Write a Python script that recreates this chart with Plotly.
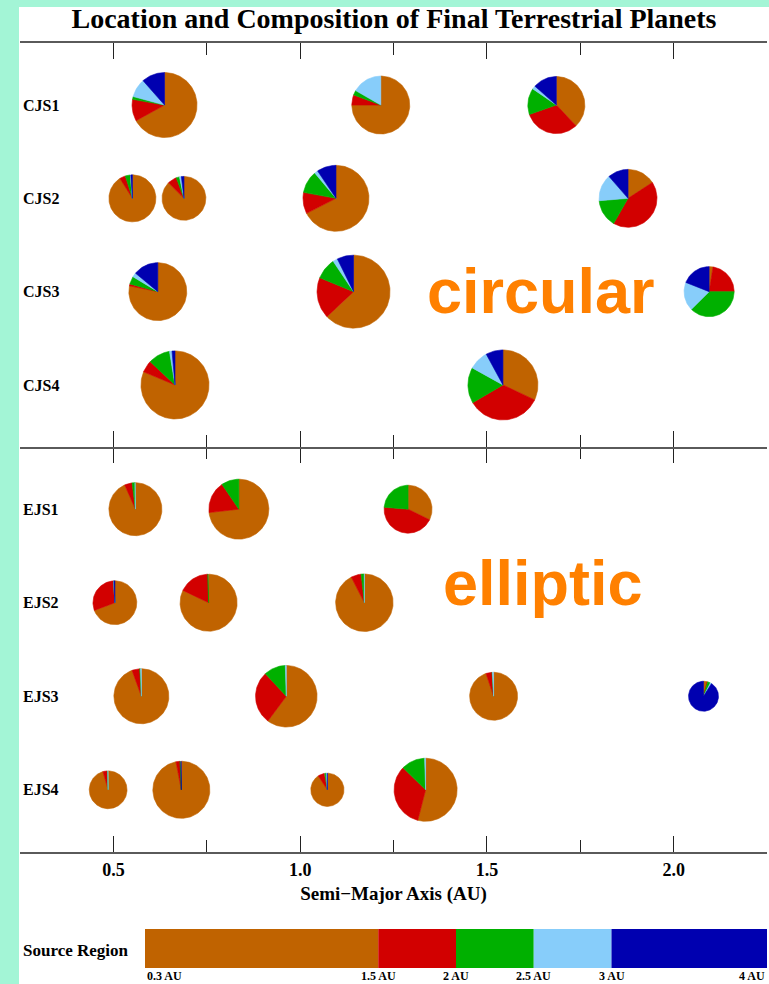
import numpy as np
import plotly.graph_objects as go

# ---------------- data ----------------
source_edge_labels = ["0.3 AU", "1.5 AU", "2 AU", "2.5 AU", "3 AU", "4 AU"]
source_names = ["0.3-1.5 AU", "1.5-2 AU", "2-2.5 AU", "2.5-3 AU", "3-4 AU"]
source_colors = ["#c06300", "#d20000", "#00b000", "#87cdfa", "#0000b0"]

cjs_rows = ["CJS1", "CJS2", "CJS3", "CJS4"]
ejs_rows = ["EJS1", "EJS2", "EJS3", "EJS4"]

# circular Jupiter/Saturn runs: one entry per final planet
cjs_run = [1, 1, 1, 2, 2, 2, 2, 3, 3, 3, 4, 4]
cjs_a = [0.637, 1.216, 1.686, 0.551, 0.689, 1.096, 1.878, 0.619, 1.143, 2.095, 0.665, 1.543]
cjs_mass = [1.27, 0.90, 0.86, 0.48, 0.39, 1.33, 0.90, 0.90, 1.80, 0.58, 1.46, 1.59]
cjs_f_03_15 = [0.670, 0.750, 0.379, 0.911, 0.875, 0.675, 0.158, 0.782, 0.630, 0.025, 0.813, 0.320]
cjs_f_15_20 = [0.108, 0.057, 0.317, 0.040, 0.067, 0.104, 0.425, 0.011, 0.182, 0.225, 0.057, 0.345]
cjs_f_20_25 = [0.014, 0.026, 0.149, 0.033, 0.024, 0.110, 0.154, 0.043, 0.094, 0.375, 0.104, 0.165]
cjs_f_25_30 = [0.093, 0.167, 0.019, 0.005, 0.014, 0.017, 0.149, 0.024, 0.021, 0.185, 0.012, 0.090]
cjs_f_30_40 = [0.115, 0.000, 0.135, 0.011, 0.019, 0.094, 0.114, 0.140, 0.073, 0.190, 0.014, 0.079]

# eccentric Jupiter/Saturn runs
ejs_run = [1, 1, 1, 2, 2, 2, 3, 3, 3, 3, 4, 4, 4, 4]
ejs_a = [0.559, 0.836, 1.289, 0.504, 0.755, 1.172, 0.575, 0.963, 1.518, 2.080, 0.486, 0.682, 1.073, 1.336]
ejs_mass = [0.69, 1.00, 0.51, 0.39, 0.86, 0.88, 0.77, 1.08, 0.51, 0.125, 0.25, 0.86, 0.17, 1.16]
ejs_f_03_15 = [0.934, 0.732, 0.323, 0.693, 0.821, 0.925, 0.945, 0.602, 0.949, 0.040, 0.956, 0.970, 0.908, 0.540]
ejs_f_15_20 = [0.046, 0.173, 0.440, 0.297, 0.175, 0.057, 0.045, 0.279, 0.040, 0.005, 0.036, 0.023, 0.062, 0.333]
ejs_f_20_25 = [0.018, 0.095, 0.237, 0.002, 0.004, 0.016, 0.005, 0.114, 0.003, 0.030, 0.004, 0.004, 0.018, 0.122]
ejs_f_25_30 = [0.002, 0.000, 0.000, 0.001, 0.000, 0.002, 0.005, 0.005, 0.008, 0.015, 0.004, 0.000, 0.011, 0.005]
ejs_f_30_40 = [0.000, 0.000, 0.000, 0.007, 0.000, 0.000, 0.000, 0.000, 0.000, 0.910, 0.000, 0.003, 0.001, 0.000]

x_ticks = [0.5, 1.0, 1.5, 2.0]

# ---------------- layout geometry ----------------
W, H = 769, 984
ML, MR, MT, MB = 20, 2, 43, 14
PW, PH = W - ML - MR, H - MT - MB


def px_x(px):
    return (px - ML) / PW


def px_y(py):
    return (H - MB - py) / PH


X_RANGE = [0.25, 2.25]
Y_RANGE = [4.665, 0.335]
top_dom = [px_y(447), 1.0]
bot_dom = [px_y(852), px_y(447)]
leg_dom_y = [px_y(968), px_y(929)]
leg_dom_x = [px_x(145), 1.0]

px_per_au = PW / (X_RANGE[1] - X_RANGE[0])
px_per_row_top = (top_dom[1] - top_dom[0]) * PH / (Y_RANGE[0] - Y_RANGE[1])
px_per_row_bot = (bot_dom[1] - bot_dom[0]) * PH / (Y_RANGE[0] - Y_RANGE[1])
R_EARTH_PX = 30.0  # pie radius (px) of a 1 Earth-mass planet


def wedge_traces(runs, a_vals, masses, fracs, xa, ya, px_row):
    comp = np.array(fracs, dtype=float).T  # planets x regions
    xs = [[] for _ in source_colors]
    ys = [[] for _ in source_colors]
    for run, a, m, f in zip(runs, a_vals, masses, comp):
        f = f / f.sum()
        r = R_EARTH_PX * m ** (1.0 / 3.0)
        edges = np.concatenate([[0.0], np.cumsum(f)]) * 360.0
        for k in range(len(f)):
            if f[k] <= 0:
                continue
            a0, a1 = edges[k], edges[k + 1]
            n = max(3, int((a1 - a0) / 2) + 2)
            th = np.radians(np.linspace(a0, a1, n))
            px = list(a + r * np.sin(th) / px_per_au)
            py = list(run - r * np.cos(th) / px_row)
            xs[k] += [a] + px + [a, None]
            ys[k] += [run] + py + [run, None]
    traces = []
    for k, col in enumerate(source_colors):
        traces.append(go.Scatter(
            x=xs[k], y=ys[k], mode="lines", fill="toself", fillcolor=col,
            line=dict(color=col, width=0.6), xaxis=xa, yaxis=ya,
            hoverinfo="skip", showlegend=False, name=source_names[k]))
    return traces


fig = go.Figure()

for t in wedge_traces(cjs_run, cjs_a, cjs_mass,
                      [cjs_f_03_15, cjs_f_15_20, cjs_f_20_25, cjs_f_25_30, cjs_f_30_40],
                      "x2", "y2", px_per_row_top):
    fig.add_trace(t)
for t in wedge_traces(ejs_run, ejs_a, ejs_mass,
                      [ejs_f_03_15, ejs_f_15_20, ejs_f_20_25, ejs_f_25_30, ejs_f_30_40],
                      "x", "y", px_per_row_bot):
    fig.add_trace(t)

# empty traces so the top-side tick axes get their own subplots
fig.add_trace(go.Scatter(x=[], y=[], xaxis="x4", yaxis="y2", showlegend=False, hoverinfo="skip"))
fig.add_trace(go.Scatter(x=[], y=[], xaxis="x5", yaxis="y", showlegend=False, hoverinfo="skip"))

# source-region colour bar
legend_cells = [3, 1, 1, 1, 2]
legend_starts = np.concatenate([[0], np.cumsum(legend_cells)[:-1]])
for k, col in enumerate(source_colors):
    fig.add_trace(go.Bar(
        x=[legend_cells[k]], base=[legend_starts[k]], y=[0], orientation="h",
        width=1.0, marker=dict(color=col, line=dict(width=0)),
        xaxis="x3", yaxis="y3", hoverinfo="skip", showlegend=False,
        name=source_names[k]))

SERIF = "Liberation Serif"
AXCOL = "#5a5a5a"
TICKCOL = "#222222"

common_x = dict(
    range=X_RANGE, domain=[0, 1], showline=True, linecolor=AXCOL, linewidth=2,
    ticks="inside", ticklen=16, tickwidth=1.2, tickcolor=TICKCOL,
    tickmode="array", tickvals=x_ticks,
    minor=dict(tickmode="linear", tick0=0.25, dtick=0.25, ticks="inside",
               ticklen=12, tickwidth=1.2, tickcolor=TICKCOL),
    showgrid=False, zeroline=False, fixedrange=True,
)
common_y = dict(
    range=Y_RANGE, showline=False, showgrid=False, zeroline=False, ticks="",
    tickmode="array", tickvals=[1, 2, 3, 4], ticklabelposition="inside",
    tickfont=dict(family=SERIF, size=16, color="black", weight="bold"),
    fixedrange=True,
)

fig.update_layout(
    width=W, height=H,
    margin=dict(l=ML, r=MR, t=MT, b=MB),
    paper_bgcolor="#a3f5d6", plot_bgcolor="rgba(0,0,0,0)",
    barmode="overlay",
    title=dict(text="Location and Composition of Final Terrestrial Planets",
               x=394 / W, xanchor="center", y=1 - 18 / H, yanchor="middle",
               font=dict(family=SERIF, size=28, color="black", weight="bold")),
    xaxis=dict(common_x, anchor="y", showticklabels=True,
               tickformat=".1f",
               tickfont=dict(family=SERIF, size=18, color="black", weight="bold"),
               title=dict(text="Semi\u2212Major Axis (AU)", standoff=8,
                          font=dict(family=SERIF, size=19, color="black", weight="bold"))),
    xaxis2=dict(common_x, anchor="y2", showticklabels=False),
    xaxis4=dict(common_x, anchor="y2", overlaying="x2", side="top", showticklabels=False),
    xaxis5=dict(common_x, anchor="y", overlaying="x", side="top", showticklabels=False,
                showline=False),
    yaxis=dict(common_y, domain=bot_dom, anchor="x", ticktext=ejs_rows),
    yaxis2=dict(common_y, domain=top_dom, anchor="x2", ticktext=cjs_rows),
    xaxis3=dict(domain=leg_dom_x, anchor="y3", range=[0, sum(legend_cells)],
                visible=False, fixedrange=True),
    yaxis3=dict(domain=leg_dom_y, anchor="x3", range=[-0.5, 0.5],
                visible=False, fixedrange=True),
    shapes=[dict(type="rect", xref="paper", yref="paper", layer="below",
                 x0=px_x(19), x1=px_x(W + 5), y0=px_y(H + 5), y1=px_y(7),
                 fillcolor="white", line=dict(width=0))],
)

annotations = [
    dict(text="circular", x=px_x(541), y=px_y(291), xref="paper", yref="paper",
         xanchor="center", yanchor="middle", showarrow=False,
         font=dict(family="Liberation Sans", size=63, color="#ff8000", weight="bold")),
    dict(text="elliptic", x=px_x(543), y=px_y(583), xref="paper", yref="paper",
         xanchor="center", yanchor="middle", showarrow=False,
         font=dict(family="Liberation Sans", size=63, color="#ff8000", weight="bold")),
    dict(text="Source Region", x=px_x(21), y=px_y(950), xref="paper", yref="paper",
         xanchor="left", yanchor="middle", showarrow=False,
         font=dict(family=SERIF, size=17, color="black", weight="bold")),
]
edge_pos = np.concatenate([[0], np.cumsum(legend_cells)])
for i, lab in enumerate(source_edge_labels):
    anchor = "left" if i == 0 else ("right" if i == len(source_edge_labels) - 1 else "center")
    annotations.append(dict(
        text=lab, x=float(edge_pos[i]), y=px_y(976), xref="x3", yref="paper",
        xanchor=anchor, yanchor="middle", showarrow=False,
        font=dict(family=SERIF, size=12, color="black", weight="bold")))
fig.update_layout(annotations=annotations)

fig.write_html("out.html",
               config={"displayModeBar": False},
               post_script="document.body.style.margin='0px';"
                           "document.body.style.overflow='hidden';")
